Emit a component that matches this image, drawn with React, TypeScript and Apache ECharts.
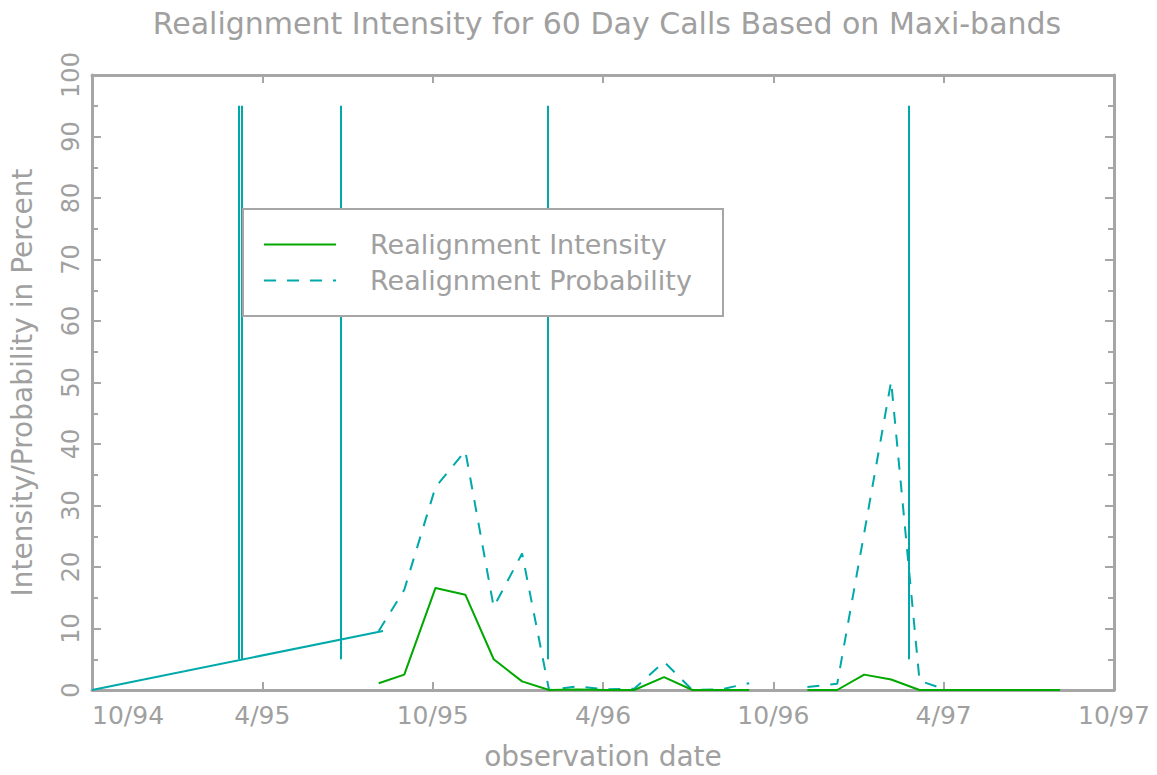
import React, { useEffect, useRef } from "react";
import * as echarts from "echarts";

// x positions are months since October 1994
const tickLabels = ["10/94", "4/95", "10/95", "4/96", "10/96", "4/97", "10/97"];
const obsMonths = [10.1, 11.0, 12.1, 13.15, 14.15, 15.15, 16.1, 17.1, 18.1, 19.1, 20.15, 21.15, 22.15, 23.15, 24.15, 25.2, 26.25, 27.2, 28.15, 29.15, 30.1, 31.1, 32.1, 33.1, 34.1];
const intensity = [1.1, 2.5, 16.6, 15.5, 5.0, 1.4, 0, 0.1, 0, 0, 2.1, 0, 0, 0, null, 0, 0, 2.5, 1.7, 0, 0, 0, 0, 0, 0];
const probability = [9.6, 16.3, 33, 38.9, 13.5, 22.2, 0, 0.6, 0.1, 0.2, 4.6, 0, 0.1, 1.1, null, 0.5, 1.0, 25.5, 50.2, 1.5, 0, 0, 0, 0, 0];
const leadMonths = [0, 10.25];
const leadValues = [0, 9.6];
const eventMonths = [5.16, 5.28, 8.76, 16.07, 28.78];
const eventLow = 5;
const eventHigh = 95;

const GREY = "#a6a6a6";
const TEXT = "#a0a0a0";
const TEAL = "#00a9a9";
const GREEN = "#00a800";
const FONT = "DejaVu Sans";

export default function App() {
  const ref = useRef<HTMLDivElement>(null);
  useEffect(() => {
    if (!ref.current) return;
    const chart = echarts.init(ref.current, null, { renderer: "svg" });
    const pair = (xs: number[], ys: (number | null)[]) =>
      xs.map((x, i) => (ys[i] === null ? [x, null] : [x, ys[i]]));
    const commonAxisLine = { onZero: false, lineStyle: { color: GREY, width: 3 } };
    const tick = (len: number) => ({ inside: true, length: len, lineStyle: { color: GREY, width: 2 } });
    chart.setOption({
      animation: false,
      backgroundColor: "#ffffff",
      title: {
        text: "Realignment Intensity for 60 Day Calls Based on Maxi-bands",
        left: 602,
        textAlign: "center",
        top: 3,
        textStyle: { fontFamily: FONT, fontSize: 30, fontWeight: "normal", color: TEXT },
      },
      grid: { left: 91, top: 75, right: 43, bottom: 82 },
      legend: {
        orient: "vertical",
        left: 263,
        top: 230,
        padding: 0,
        itemGap: 7,
        itemWidth: 72,
        itemHeight: 14,
        z: 101,
        itemStyle: { opacity: 0 },
        data: ["Realignment Intensity", "Realignment Probability"],
        textStyle: { fontFamily: FONT, fontSize: 27, lineHeight: 29, color: TEXT, padding: [0, 0, 0, 29] },
      },
      graphic: [
        {
          type: "rect",
          z: 100,
          shape: { x: 243, y: 209, width: 480, height: 107 },
          style: { fill: "#ffffff", stroke: GREY, lineWidth: 2 },
        },
      ],
      xAxis: [
        {
          type: "value",
          min: 0,
          max: 36,
          interval: 6,
          position: "bottom",
          name: "observation date",
          nameLocation: "middle",
          nameGap: 52,
          nameTextStyle: { fontFamily: FONT, fontSize: 28, color: TEXT },
          axisLine: commonAxisLine,
          axisTick: tick(8),
          axisLabel: {
            fontFamily: FONT,
            fontSize: 25,
            color: TEXT,
            margin: 13,
            alignMinLabel: "left",
            formatter: (v: number) => tickLabels[Math.round(v / 6)] ?? "",
          },
          splitLine: { show: false },
        },
        {
          type: "value",
          min: 0,
          max: 36,
          interval: 6,
          position: "top",
          axisLine: commonAxisLine,
          axisTick: tick(8),
          axisLabel: { show: false },
          splitLine: { show: false },
        },
      ],
      yAxis: [
        {
          type: "value",
          min: 0,
          max: 100,
          interval: 10,
          position: "left",
          name: "Intensity/Probability in Percent",
          nameLocation: "middle",
          nameGap: 56,
          nameRotate: 90,
          nameTextStyle: { fontFamily: FONT, fontSize: 28, color: TEXT },
          axisLine: commonAxisLine,
          axisTick: tick(9),
          minorTick: { show: true, splitNumber: 2, length: 6, lineStyle: { color: GREY, width: 2 } },
          axisLabel: { fontFamily: FONT, fontSize: 24, color: TEXT, rotate: 90, margin: 9 },
          splitLine: { show: false },
          minorSplitLine: { show: false },
        },
        {
          type: "value",
          min: 0,
          max: 100,
          interval: 10,
          position: "right",
          axisLine: commonAxisLine,
          axisTick: tick(9),
          minorTick: { show: true, splitNumber: 2, length: 6, lineStyle: { color: GREY, width: 2 } },
          axisLabel: { show: false },
          splitLine: { show: false },
          minorSplitLine: { show: false },
        },
      ],
      series: [
        {
          name: "lead",
          type: "line",
          symbol: "none",
          lineStyle: { color: TEAL, width: 2 },
          data: pair(leadMonths, leadValues),
          markLine: {
            symbol: "none",
            silent: true,
            label: { show: false },
            lineStyle: { color: TEAL, width: 2, type: "solid" },
            data: eventMonths.map((m) => [
              { coord: [m, eventLow] },
              { coord: [m, eventHigh] },
            ]),
          },
        },
        {
          name: "Realignment Probability",
          type: "line",
          symbol: "none",
          connectNulls: false,
          itemStyle: { color: TEAL },
          lineStyle: { color: TEAL, width: 2, type: [12, 11] },
          data: pair(obsMonths, probability),
        },
        {
          name: "Realignment Intensity",
          type: "line",
          symbol: "none",
          connectNulls: false,
          itemStyle: { color: GREEN },
          lineStyle: { color: GREEN, width: 2 },
          data: pair(obsMonths, intensity),
        },
      ],
    });
    return () => chart.dispose();
  }, []);
  return (
    <div
      ref={ref}
      style={{ position: "fixed", left: 0, top: 0, width: 1157, height: 775, background: "#fff" }}
    />
  );
}
